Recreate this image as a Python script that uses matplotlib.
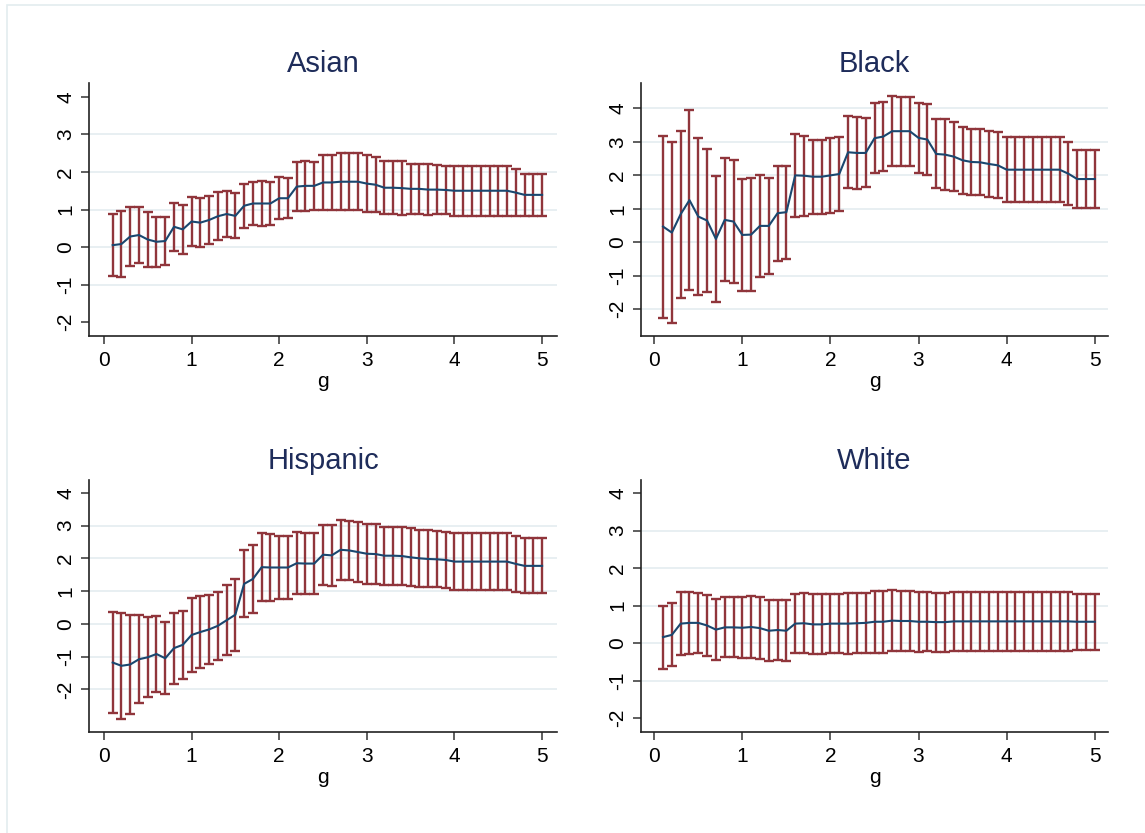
import numpy as np
import matplotlib
matplotlib.use('Agg')
import matplotlib.pyplot as plt
from matplotlib.patches import Rectangle

plt.rcParams['font.family'] = ['Liberation Sans', 'DejaVu Sans']

# g grid shared by every group
g = np.round(np.arange(1, 51) * 0.1, 1)

groups = ["Asian", "Black", "Hispanic", "White"]

# point estimates and 95% CI half-widths per group
asian_est = [0.05, 0.08, 0.28, 0.32, 0.20, 0.14, 0.16, 0.54, 0.47, 0.68,
             0.65, 0.72, 0.82, 0.88, 0.83, 1.10, 1.16, 1.16, 1.16, 1.30,
             1.30, 1.61, 1.63, 1.63, 1.72, 1.72, 1.74, 1.74, 1.74, 1.69,
             1.66, 1.58, 1.58, 1.57, 1.55, 1.55, 1.53, 1.53, 1.52, 1.50,
             1.50, 1.50, 1.50, 1.50, 1.50, 1.50, 1.45, 1.39, 1.39, 1.39]
asian_ci = [0.83, 0.88, 0.79, 0.75, 0.74, 0.67, 0.63, 0.64, 0.65, 0.64,
            0.65, 0.65, 0.64, 0.60, 0.60, 0.58, 0.56, 0.59, 0.57, 0.56,
            0.53, 0.66, 0.66, 0.64, 0.72, 0.72, 0.76, 0.76, 0.76, 0.75,
            0.73, 0.70, 0.70, 0.71, 0.66, 0.66, 0.67, 0.65, 0.65, 0.66,
            0.66, 0.66, 0.66, 0.66, 0.66, 0.66, 0.62, 0.56, 0.56, 0.56]

black_est = [0.47, 0.29, 0.84, 1.26, 0.77, 0.65, 0.10, 0.67, 0.62, 0.22,
             0.23, 0.49, 0.49, 0.87, 0.90, 2.00, 1.99, 1.96, 1.96, 2.00,
             2.04, 2.69, 2.67, 2.67, 3.11, 3.16, 3.32, 3.32, 3.32, 3.12,
             3.07, 2.64, 2.62, 2.56, 2.45, 2.40, 2.39, 2.34, 2.30, 2.17,
             2.17, 2.17, 2.17, 2.17, 2.17, 2.17, 2.05, 1.89, 1.89, 1.89]
black_ci = [2.72, 2.70, 2.50, 2.70, 2.35, 2.14, 1.87, 1.84, 1.84, 1.67,
            1.69, 1.53, 1.43, 1.42, 1.39, 1.24, 1.20, 1.11, 1.11, 1.11,
            1.11, 1.08, 1.07, 1.03, 1.04, 1.03, 1.05, 1.03, 1.03, 1.05,
            1.05, 1.03, 1.05, 1.04, 1.00, 0.99, 0.99, 0.98, 0.99, 0.97,
            0.97, 0.97, 0.97, 0.97, 0.97, 0.97, 0.94, 0.87, 0.87, 0.87]

hisp_est = [-1.18, -1.28, -1.24, -1.08, -1.02, -0.92, -1.05, -0.74, -0.64, -0.34,
            -0.25, -0.17, -0.06, 0.11, 0.28, 1.22, 1.37, 1.73, 1.72, 1.72,
            1.72, 1.85, 1.84, 1.84, 2.11, 2.09, 2.26, 2.24, 2.19, 2.14,
            2.13, 2.08, 2.08, 2.07, 2.03, 2.00, 1.98, 1.97, 1.95, 1.90,
            1.90, 1.90, 1.90, 1.90, 1.90, 1.90, 1.83, 1.77, 1.77, 1.77]
hisp_ci = [1.55, 1.61, 1.50, 1.35, 1.22, 1.16, 1.10, 1.08, 1.04, 1.12,
           1.09, 1.05, 1.04, 1.07, 1.10, 1.02, 1.03, 1.03, 1.01, 0.97,
           0.96, 0.94, 0.93, 0.93, 0.92, 0.92, 0.91, 0.90, 0.91, 0.92,
           0.91, 0.89, 0.89, 0.89, 0.88, 0.87, 0.87, 0.86, 0.86, 0.87,
           0.87, 0.87, 0.87, 0.87, 0.87, 0.87, 0.86, 0.84, 0.84, 0.84]

white_est = [0.16, 0.22, 0.52, 0.54, 0.54, 0.47, 0.36, 0.42, 0.42, 0.41,
             0.43, 0.40, 0.33, 0.35, 0.33, 0.52, 0.53, 0.50, 0.50, 0.52,
             0.52, 0.52, 0.53, 0.54, 0.57, 0.57, 0.60, 0.59, 0.59, 0.57,
             0.57, 0.56, 0.56, 0.58, 0.58, 0.58, 0.58, 0.58, 0.58, 0.58,
             0.58, 0.58, 0.58, 0.58, 0.58, 0.58, 0.58, 0.57, 0.57, 0.57]
white_ci = [0.84, 0.84, 0.84, 0.82, 0.81, 0.82, 0.82, 0.80, 0.80, 0.81,
            0.83, 0.83, 0.81, 0.81, 0.81, 0.79, 0.80, 0.80, 0.80, 0.78,
            0.78, 0.81, 0.80, 0.79, 0.82, 0.83, 0.82, 0.81, 0.81, 0.80,
            0.79, 0.79, 0.79, 0.78, 0.78, 0.78, 0.78, 0.78, 0.78, 0.78,
            0.78, 0.78, 0.78, 0.78, 0.78, 0.78, 0.78, 0.74, 0.74, 0.74]

ests = [asian_est, black_est, hisp_est, white_est]
cis = [asian_ci, black_ci, hisp_ci, white_ci]

yticks = [-2, -1, 0, 1, 2, 3, 4]
xticks = [0, 1, 2, 3, 4, 5]

W, H = 1145, 833
# panel boxes in pixels: left, top, right, bottom
boxes = [(89, 83, 557, 336), (641, 83, 1108, 336),
         (89, 480, 557, 732), (641, 480, 1108, 732)]
ylims = [(-2.37, 4.37), (-2.8, 4.76), (-3.3, 4.39), (-2.37, 4.35)]
xlims = [(-0.17, 5.17), (-0.15, 5.15), (-0.17, 5.17), (-0.15, 5.15)]

navy = '#1a476f'
maroon = '#90353b'
title_col = '#1e2c5a'
grid_col = '#e6eef1'

fig = plt.figure(figsize=(W / 100, H / 100), dpi=100)
fig.patch.set_facecolor('white')
fig.add_artist(Rectangle((7 / W, -0.05), 1.1, 1.05 - 4.7 / H,
                         transform=fig.transFigure, fill=False,
                         edgecolor='#e3ecef', linewidth=1.2))

for i, name in enumerate(groups):
    l, t, r, b = boxes[i]
    ax = fig.add_axes([l / W, 1 - b / H, (r - l) / W, (b - t) / H])
    est = np.array(ests[i])
    ci = np.array(cis[i])
    ylo, yhi = ylims[i]

    for yt in yticks:
        if ylo + 0.5 < yt < yhi - 0.5:
            ax.axhline(yt, color=grid_col, lw=1.3, zorder=0)

    ax.errorbar(g, est, yerr=ci, fmt='none', ecolor=maroon, elinewidth=1.7,
                capsize=3.4, capthick=1.7, zorder=2)
    ax.plot(g, est, color=navy, lw=1.5, zorder=3)

    ax.set_xlim(*xlims[i])
    ax.set_ylim(ylo, yhi)
    ax.set_xticks(xticks)
    ax.set_yticks(yticks)
    ax.set_yticklabels([str(v) for v in yticks], rotation=90, va='center')
    ax.tick_params(axis='both', length=6, width=1.1, color='#333333',
                   labelsize=15, pad=5)
    ax.tick_params(axis='y', pad=4)
    for s in ['top', 'right']:
        ax.spines[s].set_visible(False)
    for s in ['left', 'bottom']:
        ax.spines[s].set_linewidth(1.2)
        ax.spines[s].set_color('#222222')
    ax.set_title(name, fontsize=21, color=title_col, pad=8)
    ax.set_xlabel('g', fontsize=15, labelpad=1)

fig.savefig('out.png', dpi=100)
